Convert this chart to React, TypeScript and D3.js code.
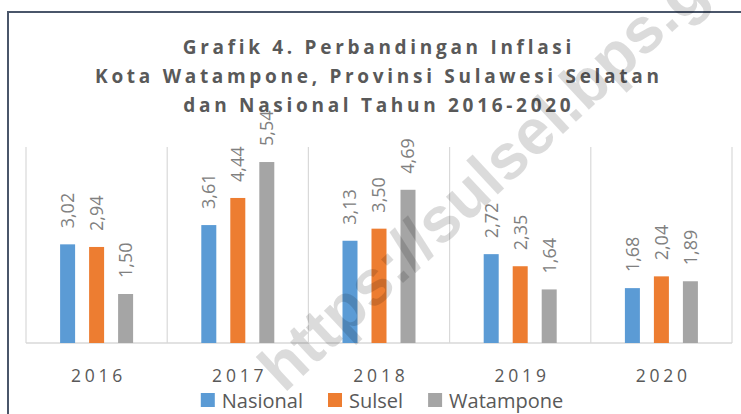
import React from "react";
import * as d3 from "d3";

const years = ["2016", "2017", "2018", "2019", "2020"];
const seriesNames = ["Nasional", "Sulsel", "Watampone"];
const nasional = [3.02, 3.61, 3.13, 2.72, 1.68];
const sulsel = [2.94, 4.44, 3.5, 2.35, 2.04];
const watampone = [1.5, 5.54, 4.69, 1.64, 1.89];
const colors = ["#5B9BD5", "#ED7D31", "#A5A5A5"];
const titleLines = [
  "Grafik 4. Perbandingan Inflasi",
  "Kota Watampone, Provinsi Sulawesi Selatan",
  "dan Nasional Tahun 2016-2020",
];
const watermark = "https://sulsel.bps.go.id";

const W = 741;
const H = 414;
const FONT = "'Open Sans', 'Noto Sans', sans-serif";

function measure(text: string, font: string): number {
  const c = document.createElement("canvas");
  const ctx = c.getContext("2d");
  if (!ctx) return text.length * 9;
  ctx.font = font;
  return ctx.measureText(text).width;
}

export default function App() {
  const values = [nasional, sulsel, watampone];
  const plot = { left: 26, right: 732, top: 147, bottom: 343 };

  const x0 = d3.scaleBand<string>().domain(years).range([plot.left, plot.right]).padding(0);
  const x1 = d3
    .scaleBand<string>()
    .domain(seriesNames)
    .range([-43.5, 43.5])
    .paddingInner(14 / 29)
    .paddingOuter(7 / 29);
  const y = d3.scaleLinear().domain([0, 6]).range([plot.bottom, plot.top]);

  const gridXs = [...years.map((d) => x0(d) as number), plot.right];

  const labelFs = 18;
  const yearFs = 17.5;
  const yearLs = 3.8;
  const titleFs = 19;
  const titleLs = 3.7;
  const legendFs = 20;
  const legendFont = `${legendFs}px 'Open Sans'`;
  const sq = 14;
  const sqGap = 7;
  const itemGap = 25;
  const widths = seriesNames.map((s) => measure(s, legendFont));
  const totalLegend =
    widths.reduce((a, b) => a + b, 0) + seriesNames.length * (sq + sqGap) + itemGap * (seriesNames.length - 1);
  let lx = 382 - totalLegend / 2;
  const legendItems = seriesNames.map((s, i) => {
    const item = { name: s, x: lx, color: colors[i] };
    lx += sq + sqGap + widths[i] + itemGap;
    return item;
  });

  return (
    <svg
      width={W}
      height={H}
      style={{ position: "absolute", left: 0, top: 0, background: "#fff" }}
      fontFamily={FONT}
    >
      <rect x={0} y={0} width={W} height={H} fill="#fff" />
      <rect x={8} y={12} width={W + 20} height={H + 20} fill="#fff" stroke="#4A566A" strokeWidth={2} />

      {titleLines.map((t, i) => (
        <text
          key={i}
          x={377}
          y={54 + i * 29}
          dx={titleLs / 2}
          textAnchor="middle"
          fontSize={titleFs}
          fontWeight="bold"
          letterSpacing={titleLs}
          fill="#595959"
        >
          {t}
        </text>
      ))}

      {gridXs.map((gx, i) => (
        <line key={i} x1={gx} x2={gx} y1={plot.top} y2={plot.bottom} stroke="#D9D9D9" strokeWidth={1.2} />
      ))}
      <line x1={plot.left} x2={plot.right} y1={plot.bottom} y2={plot.bottom} stroke="#D9D9D9" strokeWidth={1.5} />

      {years.map((yr, yi) => {
        const cx = (x0(yr) as number) + x0.bandwidth() / 2;
        return (
          <g key={yr}>
            {seriesNames.map((s, si) => {
              const v = values[si][yi];
              const bx = cx + (x1(s) as number);
              const bw = x1.bandwidth();
              const top = y(v);
              return (
                <g key={s}>
                  <rect x={bx} y={top} width={bw} height={plot.bottom - top} fill={colors[si]} />
                  <text
                    transform={`translate(${bx + bw / 2},${top - 16}) rotate(-90)`}
                    dy="0.36em"
                    fontSize={labelFs}
                    fill="#808080"
                  >
                    {v.toFixed(2).replace(".", ",")}
                  </text>
                </g>
              );
            })}
            <text
              x={cx}
              y={382}
              dx={yearLs / 2}
              textAnchor="middle"
              fontSize={yearFs}
              letterSpacing={yearLs}
              fill="#595959"
            >
              {yr}
            </text>
          </g>
        );
      })}

      {legendItems.map((it) => (
        <g key={it.name}>
          <rect x={it.x} y={393} width={sq} height={sq} fill={it.color} />
          <text x={it.x + sq + sqGap} y={408} fontSize={legendFs} fill="#595959">
            {it.name}
          </text>
        </g>
      ))}

      <text
        transform="translate(284,394) rotate(-43)"
        fontFamily="'Liberation Sans', Arial, sans-serif"
        fontWeight="bold"
        fontSize={64}
        fill="#000"
        fillOpacity={0.14}
      >
        {watermark}
      </text>
    </svg>
  );
}
